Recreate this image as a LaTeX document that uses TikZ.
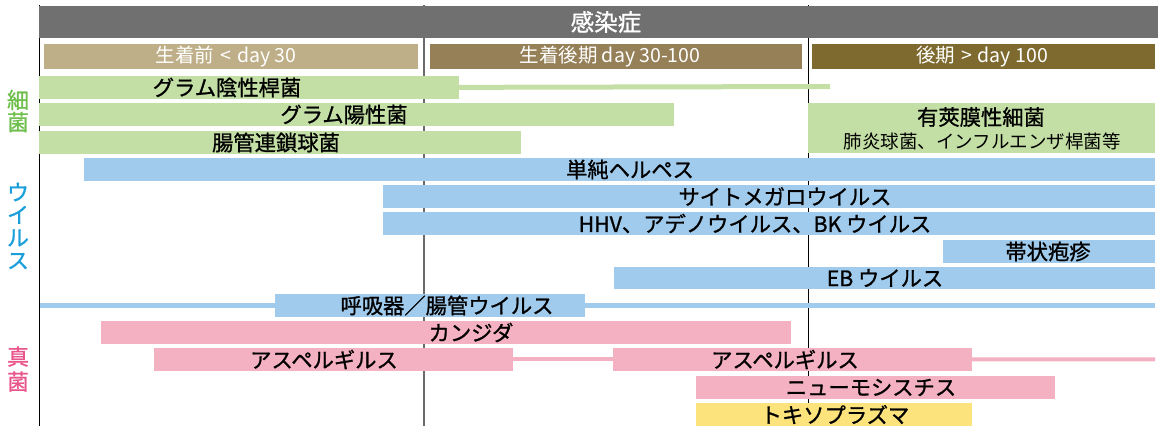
\documentclass[tikz,border=0pt]{standalone}
\usepackage{fontspec}
\setmainfont{Noto Sans CJK JP}
\newfontfamily\jp{Noto Sans CJK JP}
\newfontfamily\jpb[FakeBold=1]{Noto Sans CJK JP}
\definecolor{hdr}{HTML}{707070}
\definecolor{phA}{HTML}{BFAF88}
\definecolor{phB}{HTML}{958058}
\definecolor{phC}{HTML}{7E6A2F}
\definecolor{bac}{HTML}{C3DFA5}
\definecolor{vir}{HTML}{A1CBEC}
\definecolor{fun}{HTML}{F4B1C2}
\definecolor{tox}{HTML}{FDE37B}
\definecolor{labB}{HTML}{6DBE4A}
\definecolor{labV}{HTML}{1A9FDB}
\definecolor{labF}{HTML}{E9568C}
\definecolor{midline}{HTML}{6A6A6A}
\begin{document}
\begin{tikzpicture}[x=1pt,y=-1pt,
  bar/.style={inner sep=0pt, outer sep=0pt, anchor=north west, draw=none},
  lbl/.style={inner sep=0pt, text=black, font=\jpb\fontsize{21.3}{21.3}\selectfont},
  sublbl/.style={inner sep=0pt, text=black, font=\jp\fontsize{18.5}{18.5}\selectfont},
  phlbl/.style={inner sep=0pt, text=white, font=\jp\fontsize{19.5}{19.5}\selectfont},
  hdrlbl/.style={inner sep=0pt, text=white, font=\jpb\fontsize{23.5}{23.5}\selectfont},
  cat/.style={inner sep=0pt, align=center, font=\jpb\fontsize{22}{22}\selectfont},
  axis/.style={line width=1.4pt, black},
  tail/.style={line width=5pt}
]
\useasboundingbox (0,0) rectangle (1158,426);

% axis lines
\coordinate (axLt) at (39.5,5);
\coordinate (axLb) at (39.5,426);
\coordinate (axMt) at (424,5);
\coordinate (axMb) at (424,426);
\coordinate (axRt) at (808,5);
\coordinate (axRb) at (808,426);
\draw[axis] (axLt) -- (axLb);
\draw[line width=2pt, midline] (axMt) -- (axMb);
\draw[line width=0.9pt, black] (axRt) -- (axRb);

% header
\node[bar, fill=hdr, minimum width=1119pt, minimum height=32pt] (head) at (39,6) {};
\node[hdrlbl] (headT) at (606,22) {感染症};

% phases
\node[bar, fill=phA, minimum width=374pt, minimum height=25pt] (ph1) at (44,44) {};
\node[bar, fill=phB, minimum width=372pt, minimum height=25pt] (ph2) at (430,44) {};
\node[bar, fill=phC, minimum width=343pt, minimum height=25pt] (ph3) at (812,44) {};
\node[phlbl] (ph1T) at (226,56.5) {生着前\hspace{6pt}<\hspace{6pt}day 30};
\node[phlbl] (ph2T) at (610,56.5) {生着後期 day 30-100};
\node[phlbl] (ph3T) at (982,56.5) {後期\hspace{6pt}>\hspace{6pt}day 100};

% tails (behind bars)
\coordinate (gnegEnd) at (830,86.5);
\coordinate (respL) at (39.5,305.3);
\coordinate (respR) at (1155,305.3);
\coordinate (aspR) at (1155,359.3);

% bacteria
\node[bar, fill=bac, minimum width=420pt, minimum height=22.7pt] (gneg) at (39,76) {};
\draw[tail, bac] (gneg.east) -- (gnegEnd);
\node[bar, fill=bac, minimum width=635pt, minimum height=23pt] (gpos) at (39,103) {};
\node[bar, fill=bac, minimum width=482pt, minimum height=23pt] (ent) at (39,131) {};
\node[bar, fill=bac, minimum width=347pt, minimum height=50pt] (caps) at (808,103) {};
\node[lbl] (gnegT) at (227,87.5) {グラム陰性桿菌};
\node[lbl] (gposT) at (344,114.5) {グラム陽性菌};
\node[lbl] (entT) at (276,142.5) {腸管連鎖球菌};
\node[lbl] (capsT) at (981,117) {有莢膜性細菌};
\node[sublbl] (capsS) at (982,141.5) {肺炎球菌、インフルエンザ桿菌等};

% viruses
\draw[tail, vir] (respL) -- (respR);
\node[bar, fill=vir, minimum width=1071pt, minimum height=22.7pt] (hsv) at (84,158) {};
\node[bar, fill=vir, minimum width=772pt, minimum height=22.7pt] (cmv) at (383,185) {};
\node[bar, fill=vir, minimum width=772pt, minimum height=22.7pt] (hhv) at (383,212) {};
\node[bar, fill=vir, minimum width=212pt, minimum height=22.7pt] (vzv) at (943,240) {};
\node[bar, fill=vir, minimum width=541pt, minimum height=22.7pt] (ebv) at (614,266.7) {};
\node[bar, fill=vir, minimum width=310pt, minimum height=22.7pt] (resp) at (275,294) {};
\node[lbl] (hsvT) at (630,169.5) {単純ヘルペス};
\node[lbl] (cmvT) at (785,196.5) {サイトメガロウイルス};
\node[lbl] (hhvT) at (755,223.5) {HHV、アデノウイルス、BK ウイルス};
\node[lbl] (vzvT) at (1048,251.5) {帯状疱疹};
\node[lbl] (ebvT) at (885,278) {EB ウイルス};
\node[lbl] (respT) at (447,305.5) {呼吸器／腸管ウイルス};

% fungi
\node[bar, fill=fun, minimum width=690pt, minimum height=22.7pt] (cand) at (101,321) {};
\node[bar, fill=fun, minimum width=359pt, minimum height=22.7pt] (asp1) at (154,348) {};
\node[bar, fill=fun, minimum width=359pt, minimum height=22.7pt] (asp2) at (613,348) {};
\draw[line width=4pt, fun] (asp1.east) -- (asp2.west);
\draw[line width=4pt, fun] (asp2.east) -- (aspR);
\node[bar, fill=fun, minimum width=359pt, minimum height=22.7pt] (pcp) at (696,376) {};
\node[bar, fill=tox, minimum width=276pt, minimum height=22.7pt] (toxo) at (696,403) {};
\node[lbl] (candT) at (471,332.5) {カンジダ};
\node[lbl] (asp1T) at (324,359.5) {アスペルギルス};
\node[lbl] (asp2T) at (785,359.5) {アスペルギルス};
\node[lbl] (pcpT) at (871,387.5) {ニューモシスチス};
\node[lbl] (toxoT) at (835,414.5) {トキソプラズマ};

% category labels
\node[cat, text=labB] (catB) at (18,111) {細\\菌};
\node[cat, text=labV, font=\jpb\fontsize{22}{22.7}\selectfont] (catV) at (18,226) {ウ\\イ\\ル\\ス};
\node[cat, text=labF, font=\jpb\fontsize{22}{25}\selectfont] (catF) at (18,369) {真\\菌};
\end{tikzpicture}
\end{document}
